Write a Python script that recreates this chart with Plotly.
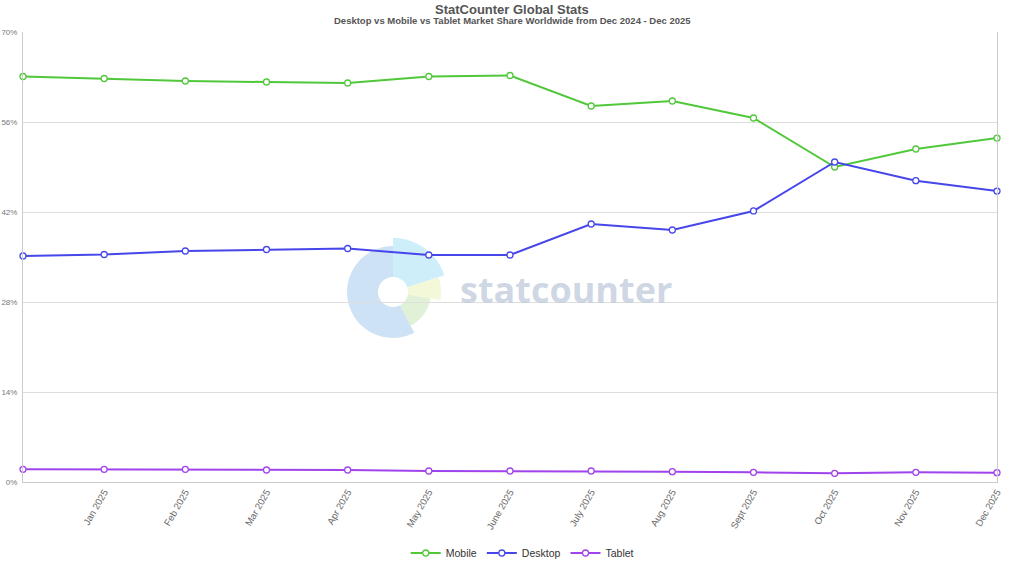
import numpy as np
import plotly.graph_objects as go

months = ["Dec 2024", "Jan 2025", "Feb 2025", "Mar 2025", "Apr 2025", "May 2025",
          "June 2025", "July 2025", "Aug 2025", "Sept 2025", "Oct 2025", "Nov 2025", "Dec 2025"]
mobile = [63.08, 62.77, 62.38, 62.22, 62.07, 63.08, 63.23, 58.49, 59.27, 56.62, 49.00, 51.80, 53.50]
desktop = [35.16, 35.39, 35.93, 36.17, 36.32, 35.31, 35.31, 40.13, 39.20, 42.16, 49.78, 46.87, 45.26]
tablet = [1.97, 1.97, 1.97, 1.87, 1.87, 1.71, 1.71, 1.71, 1.61, 1.50, 1.35, 1.50, 1.45]
y_ticks = [0, 14, 28, 42, 56, 70]

series = [("Mobile", mobile, "#50c83a"), ("Desktop", desktop, "#4646ea"), ("Tablet", tablet, "#a043ec")]

W, H = 1024, 576
ML, MR, MT, MB = 23, 27, 32, 94
PW, PH = W - ML - MR, H - MT - MB

def px2paper(px, py):
    return (px - ML) / PW, (H - MB - py) / PH

xs = list(range(len(months)))
fig = go.Figure()
for name, vals, col in series:
    fig.add_trace(go.Scatter(
        x=xs, y=vals, name=name, mode="lines+markers",
        line=dict(color=col, width=2),
        marker=dict(symbol="circle", size=6, color="white", line=dict(color=col, width=1.3)),
        cliponaxis=False,
        hovertemplate="%{y:.2f}%<extra>" + name + "</extra>",
    ))

# watermark logo (donut rose) as shapes in paper coordinates
cx, cy = 393, 292  # pixel centre
segments = [  # (start deg clockwise from north, end deg, outer radius px, color)
    (0, 72, 54, "rgba(190,232,248,0.75)"),
    (72, 100, 48, "rgba(240,246,208,0.8)"),
    (100, 152.5, 38, "rgba(218,238,205,0.8)"),
    (152.5, 360, 46, "rgba(190,216,242,0.75)"),
]
r_in = 15
for a0, a1, ro, col in segments:
    ang = np.radians(np.linspace(a0, a1, 40))
    outer = [(cx + ro * np.sin(a), cy - ro * np.cos(a)) for a in ang]
    inner = [(cx + r_in * np.sin(a), cy - r_in * np.cos(a)) for a in ang[::-1]]
    pts = [px2paper(*p) for p in outer + inner]
    path = "M " + " L ".join(f"{x:.5f},{y:.5f}" for x, y in pts) + " Z"
    fig.add_shape(type="path", path=path, xref="paper", yref="paper",
                  fillcolor=col, line=dict(width=0), layer="below")

annotations = [
    dict(text="<b>statcounter</b>", xref="paper", yref="paper",
         x=px2paper(566, 290)[0], y=px2paper(566, 290)[1], showarrow=False,
         font=dict(family="Open Sans", size=36, color="rgba(190,202,218,0.75)")),
    dict(text="<b>StatCounter Global Stats</b>", xref="paper", yref="paper",
         x=px2paper(512, 9)[0], y=px2paper(512, 9)[1], xanchor="center", yanchor="middle",
         showarrow=False, font=dict(size=13, color="#555")),
    dict(text="<b>Desktop vs Mobile vs Tablet Market Share Worldwide from Dec 2024 - Dec 2025</b>",
         xref="paper", yref="paper",
         x=px2paper(512, 21)[0], y=px2paper(512, 21)[1], xanchor="center", yanchor="middle",
         showarrow=False, font=dict(size=9.5, color="#555")),
]

fig.update_layout(
    width=W, height=H,
    margin=dict(l=ML, r=MR, t=MT, b=MB, autoexpand=False),
    paper_bgcolor="white", plot_bgcolor="white",
    font=dict(family="Liberation Sans, Arial", color="#666"),
    showlegend=True,
    legend=dict(orientation="h", xref="container", yref="container", x=0.51, y=1 - 553 / H,
                xanchor="center", yanchor="middle", font=dict(size=10.5, color="#333"),
                itemwidth=30, traceorder="normal"),
    annotations=annotations,
    hovermode="x",
)

fig.update_xaxes(range=[0, len(months) - 1], tickmode="array",
                 tickvals=xs[1:], ticktext=months[1:], tickangle=-60,
                 tickfont=dict(size=9.5, color="#666"), showgrid=False, automargin=False,
                 showline=True, linecolor="#ccc", linewidth=1, ticks="", zeroline=False)
fig.update_yaxes(range=[0, 70], tickmode="array", tickvals=y_ticks, automargin=False,
                 ticktext=[f"{v}%" for v in y_ticks], tickfont=dict(size=8, color="#777"),
                 showgrid=True, gridcolor="#dedede", gridwidth=1,
                 showline=True, linecolor="#ccc", mirror=True, zeroline=False, ticks="",
                 ticklabelstandoff=3)

fig.write_html("out.html")
